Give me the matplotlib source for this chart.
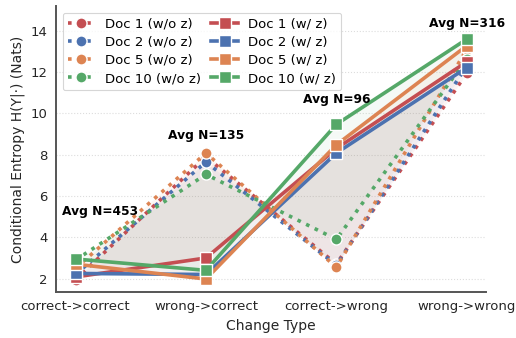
import matplotlib
matplotlib.use("Agg")
import matplotlib.pyplot as plt
import numpy as np

# categories on the x axis
change_types = ["correct->correct", "wrong->correct", "correct->wrong", "wrong->wrong"]
docs = ["Doc 1", "Doc 2", "Doc 5", "Doc 10"]
colors = ["#c44e52", "#4c72b0", "#dd8452", "#55a868"]

# entropy without z (dotted, circles)
doc1_wo = [1.95, 7.90, 2.70, 11.95]
doc2_wo = [2.20, 7.65, 2.65, 12.30]
doc5_wo = [2.50, 8.08, 2.55, 13.10]
doc10_wo = [2.90, 7.05, 3.90, 12.65]

# entropy with z (solid, squares)
doc1_w = [2.08, 3.00, 8.30, 12.50]
doc2_w = [2.25, 2.20, 8.08, 12.22]
doc5_w = [2.70, 1.98, 8.48, 13.28]
doc10_w = [2.95, 2.40, 9.47, 13.60]

avg_n = [453, 135, 96, 316]

wo_series = [doc1_wo, doc2_wo, doc5_wo, doc10_wo]
w_series = [doc1_w, doc2_w, doc5_w, doc10_w]

plt.rcParams["font.family"] = "DejaVu Sans"
fig = plt.figure(figsize=(5.16, 3.38), dpi=100)
ax = fig.add_axes([0.1085, 0.136, 0.834, 0.846])

x = np.arange(len(change_types))

# light fill between with/without z per doc
for wo, w, c in zip(wo_series, w_series, colors):
    ax.fill_between(x, wo, w, color=c, alpha=0.06, linewidth=0, zorder=1)

handles_wo, handles_w = [], []
for name, wo, c in zip(docs, wo_series, colors):
    h, = ax.plot(x, wo, linestyle=":", linewidth=2.6, color=c, marker="o",
                 markersize=8, markeredgecolor="white", markeredgewidth=1,
                 label=f"{name} (w/o z)", zorder=3)
    handles_wo.append(h)
for name, w, c in zip(docs, w_series, colors):
    h, = ax.plot(x, w, linestyle="-", linewidth=2.6, color=c, marker="s",
                 markersize=8, markeredgecolor="white", markeredgewidth=1,
                 label=f"{name} (w/ z)", zorder=4)
    handles_w.append(h)

# annotations with average sample counts
label_pos = [(0.19, 5.27), (1.0, 8.94), (2.0, 10.68), (3.0, 14.38)]
for (tx, ty), n in zip(label_pos, avg_n):
    ax.text(tx, ty, f"Avg N={n}", ha="center", va="center",
            fontsize=8.8, fontweight="bold", zorder=6)

ax.set_xticks(x)
ax.set_xticklabels(change_types, fontsize=9.5, color="#262626")
ax.set_yticks([2, 4, 6, 8, 10, 12, 14])
ax.tick_params(axis="y", labelsize=9.5, labelcolor="#262626")
ax.tick_params(length=0, pad=6)
ax.set_xlim(-0.15, 3.15)
ax.set_ylim(1.35, 15.2)
ax.set_xlabel("Change Type", fontsize=10, color="#262626")
ax.set_ylabel("Conditional Entropy H(Y|·) (Nats)", fontsize=10, color="#262626")

ax.grid(axis="y", linestyle=":", color="#dddddd", linewidth=0.8, zorder=0)
ax.set_axisbelow(True)
for s in ["top", "right"]:
    ax.spines[s].set_visible(False)
for s in ["left", "bottom"]:
    ax.spines[s].set_color("#555555")
    ax.spines[s].set_linewidth(1.4)

leg = ax.legend(handles=handles_wo + handles_w, ncol=2, loc="upper left",
                bbox_to_anchor=(0.0, 1.0), fontsize=9.5, frameon=True,
                handlelength=2.0, columnspacing=0.8, labelspacing=0.38,
                borderpad=0.4, handletextpad=0.8)
leg.get_frame().set_edgecolor("#cccccc")
leg.get_frame().set_linewidth(0.8)
leg.set_zorder(7)

fig.savefig("out.png", dpi=100)
